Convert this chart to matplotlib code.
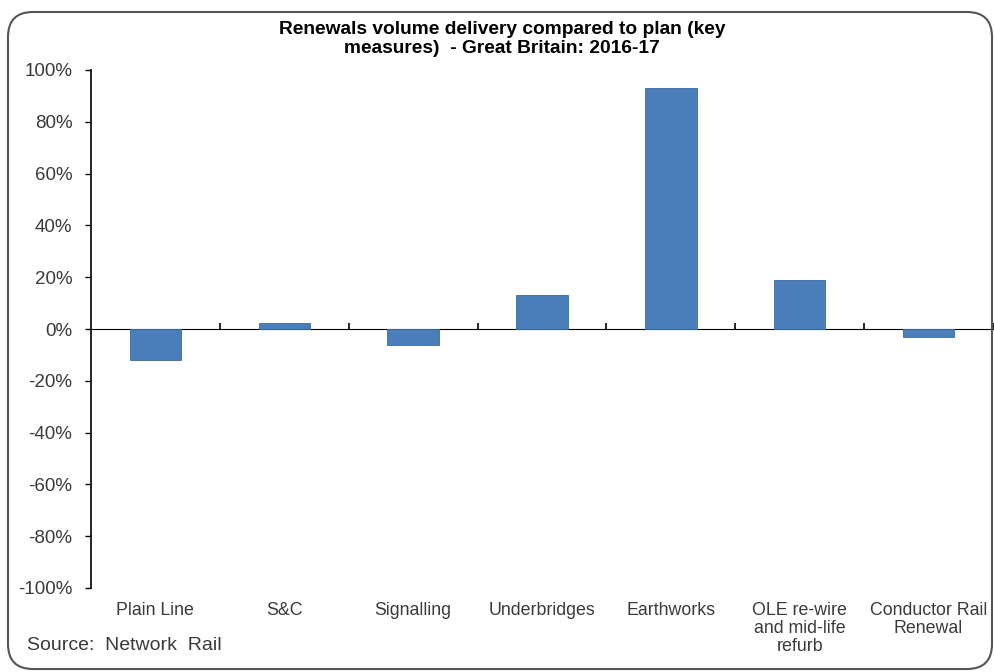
"""Renewals volume delivery compared to plan, Great Britain 2016-17."""

import matplotlib

matplotlib.use("Agg")
import matplotlib.pyplot as plt
from matplotlib.patches import FancyBboxPatch
import numpy as np

plt.rcParams["font.family"] = ["Liberation Sans", "DejaVu Sans"]

categories = [
    "Plain Line",
    "S&C",
    "Signalling",
    "Underbridges",
    "Earthworks",
    "OLE re-wire\nand mid-life\nrefurb",
    "Conductor Rail\nRenewal",
]
values = [-12, 2.5, -6, 13, 93, 19, -3]  # % versus plan
yticks = [-100, -80, -60, -40, -20, 0, 20, 40, 60, 80, 100]

fig = plt.figure(figsize=(9.94, 6.72), dpi=100)
ax = fig.add_axes([91 / 994, 1 - 588 / 672, 902 / 994, 518 / 672])

x = np.arange(len(categories))
ax.bar(x, values, width=0.4, color="#4a7ebb", edgecolor="#3d6aa0", linewidth=0.6, zorder=2)

ax.set_xlim(-0.5, len(categories) - 0.5)
ax.set_ylim(-100, 100)
ax.set_yticks(yticks)
ax.set_yticklabels([f"{v}%" for v in yticks])
ax.tick_params(axis="y", direction="out", length=4.5, width=1, pad=9,
               labelsize=13.5, labelcolor="#3a3a3a")

# category labels at the bottom, no tick marks there
ax.set_xticks(x)
ax.set_xticklabels(categories, fontsize=12.8, color="#3a3a3a", linespacing=1.1)
ax.tick_params(axis="x", length=0, pad=10)

for side in ("top", "right", "bottom"):
    ax.spines[side].set_visible(False)
ax.spines["left"].set_linewidth(1.2)

# zero line with tick marks between categories
zero = ax.secondary_xaxis(0.5)
zero.set_xticks(np.arange(0.5, len(categories), 1.0))
zero.set_xticklabels([])
zero.tick_params(direction="out", length=4, width=1.2)
zero.spines["bottom"].set_linewidth(1.2)

fig.text(0.505, 1 - 21 / 672,
         "Renewals volume delivery compared to plan (key\nmeasures)  - Great Britain: 2016-17",
         ha="center", va="top", fontsize=13.8, fontweight="bold", linespacing=1.15)

fig.text(27 / 994, 1 - 645 / 672, "Source:  Network  Rail", ha="left", va="center",
         fontsize=14, color="#3a3a3a")

# rounded frame round the chart
frame = FancyBboxPatch((8, 3), 984, 657, boxstyle="round,pad=0,rounding_size=25",
                       transform=None, facecolor="none", edgecolor="#555555", linewidth=1.5)
fig.patches.append(frame)

fig.savefig("out.png", dpi=100)
